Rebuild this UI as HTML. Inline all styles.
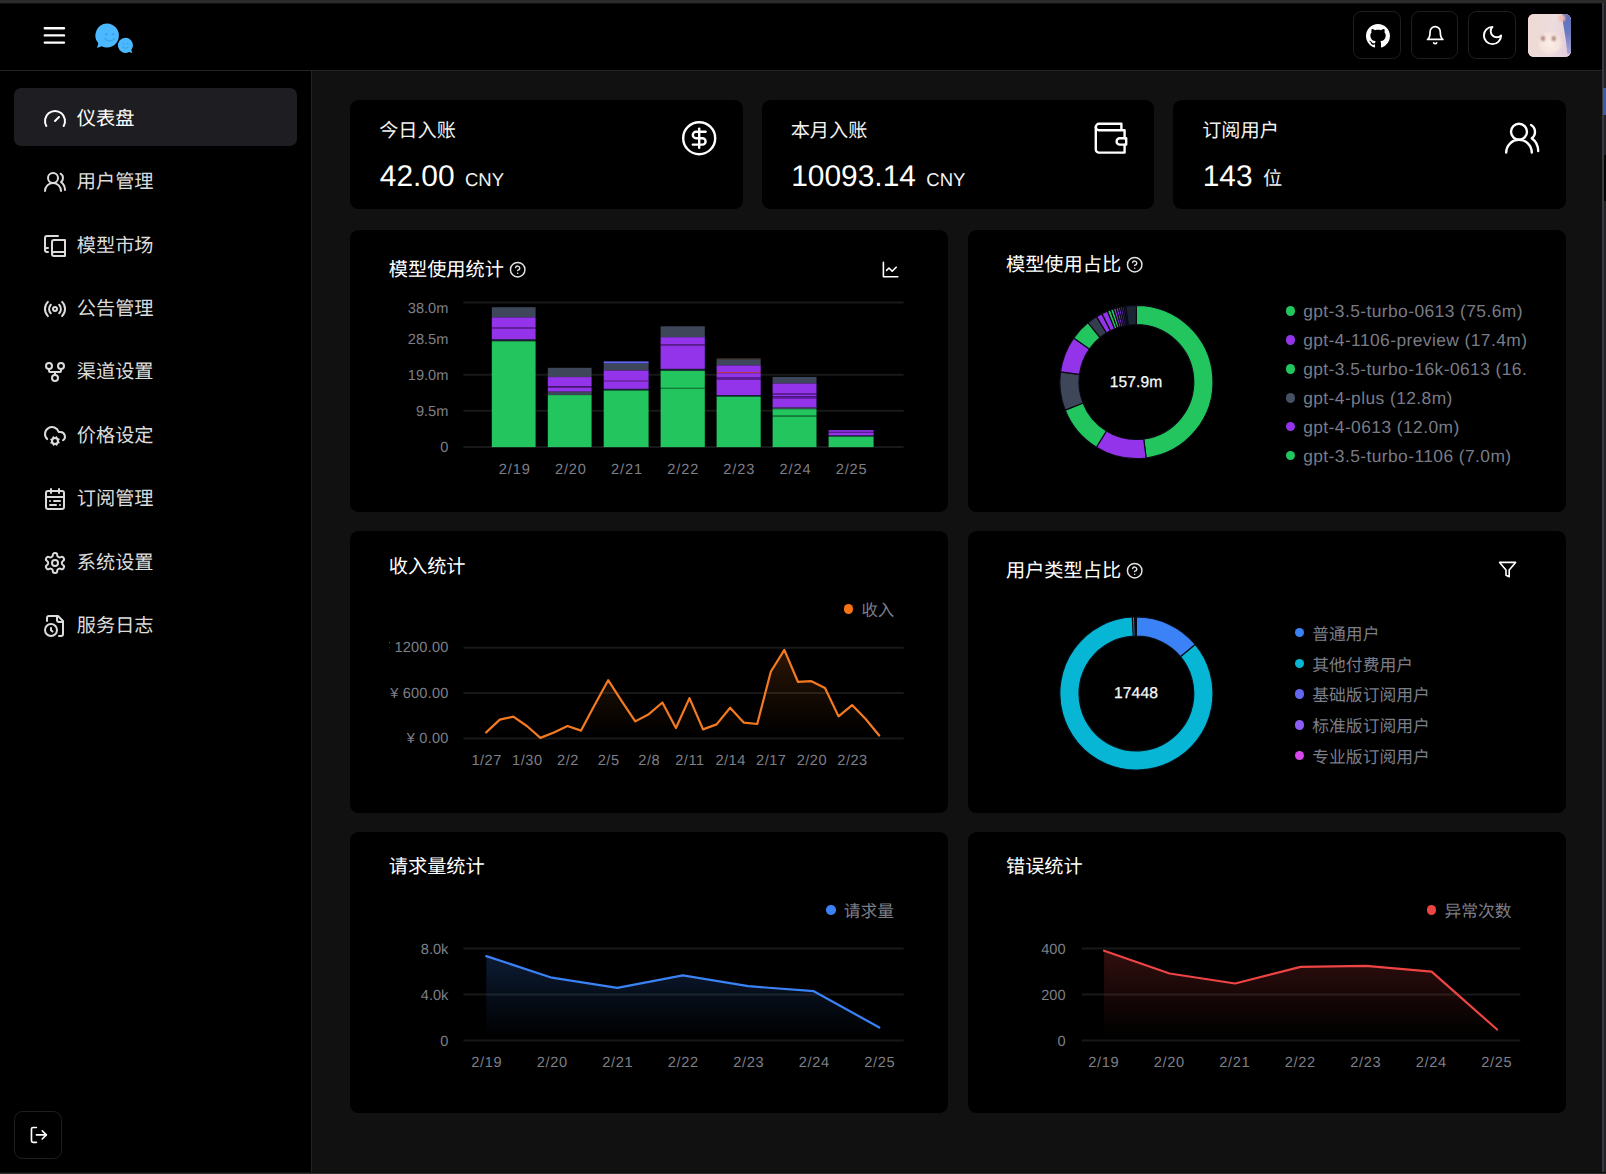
<!DOCTYPE html>
<html lang="zh-CN">
<head>
<meta charset="utf-8">
<title>仪表盘</title>
<style>
*{box-sizing:border-box;margin:0;padding:0}
html,body{width:1606px;height:1174px;overflow:hidden;background:#111}
body{font-family:"Liberation Sans",sans-serif;color:#fff;-webkit-font-smoothing:antialiased;text-rendering:geometricPrecision}
#app{position:relative;width:1606px;height:1174px;overflow:hidden;background:#111}
.t{position:absolute;white-space:nowrap;font-weight:400}
.t.m{-webkit-text-stroke:.25px #fafafa}
.ic{position:absolute;display:block;overflow:visible}
.cv{position:absolute;left:0;top:0;display:block}
.top{position:absolute;left:0;top:0;width:1606px;height:71px;background:#000;border-bottom:1px solid #232325}
.side{position:absolute;left:0;top:71px;width:312px;height:1103px;background:#000;border-right:1px solid #242425}
.navact{position:absolute;background:#1e1e22;border-radius:7.2px}
.ibtn{position:absolute;width:47.6px;height:47.6px;border:1px solid #1f1f21;border-radius:8.5px;background:#000}
.avatar{position:absolute;left:1528.1px;top:13.8px;width:43.1px;height:43.2px;border-radius:6px;overflow:hidden;background:#ead8d4}
.avatar i{position:absolute;display:block}
.card{position:absolute;background:#000;border-radius:8.6px;overflow:hidden}
.lg{position:absolute;list-style:none;overflow:hidden}
.lg li{display:block}
.dot{position:absolute;display:block;width:9.4px;height:9.4px;border-radius:50%;margin:.1px}
.clip{position:absolute;overflow:hidden}
.edge{position:absolute;background:#2d2d2f}

.avatar .a1{left:0;top:0;width:100%;height:100%;background:linear-gradient(100deg,#efd9d3 0%,#ecdcdc 55%,#e9d4dc 75%,#dcc8dc 100%)}
.avatar .a2{left:30px;top:0;width:14px;height:40px;background:linear-gradient(#5f70ba 0%,#6a79c0 45%,#a9a6d4 100%);clip-path:polygon(31% 0,100% 0,100% 100%,66% 100%,57% 70%,41% 35%,30% 12%);filter:blur(.7px)}
.avatar .a3{left:9px;top:17px;width:26px;height:24px;border-radius:50%;background:radial-gradient(closest-side,#fbeee6 0%,#f6e4dd 70%,rgba(246,228,221,0) 100%)}
.avatar .a4{left:12.6px;top:22.6px;width:4px;height:4.4px;border-radius:50%;background:#a98079;box-shadow:10.8px 0 0 #a98079;filter:blur(.8px)}
.avatar .a5{left:31px;top:1px;width:6px;height:6px;background:#f2b8a8;filter:blur(1.2px)}
</style>
</head>
<body>
<div id="app">
<header class="top">
<svg class="ic" style="left:39.8px;top:21.1px" width="28.8" height="28.8" viewBox="0 0 24 24" fill="none" stroke="#fff" stroke-width="2" stroke-linecap="round" stroke-linejoin="round"><path d="M4 12h16M4 6h16M4 18h16"/></svg>
<svg class="ic" style="left:90px;top:18px" width="50" height="40" viewBox="90 18 50 40"><path fill="#4cb8ff" d="M106.9 23.5a12 12 0 1 1-5.2 22.8l-4.6 1.6 1.2-4.6A12 12 0 0 1 106.9 23.5z"/><path fill="#4cb8ff" d="M125.5 37.7a7.6 7.6 0 1 0 3.4 14.4l3.3 1-.9-3.2a7.6 7.6 0 0 0-5.8-12.2z"/><g fill="#3aa4f0"><circle cx="106.4" cy="34.3" r="1.3"/><circle cx="113.2" cy="34.3" r="1.3"/></g><path d="M105 38.8q4.8 4.2 9.6 0" fill="none" stroke="#3aa4f0" stroke-width="1.5" stroke-linecap="round"/><g fill="#3aa4f0"><circle cx="123.3" cy="43.6" r=".9"/><circle cx="127.7" cy="43.6" r=".9"/></g><path d="M122.6 47q2.9 2.6 5.8 0" fill="none" stroke="#3aa4f0" stroke-width="1.1" stroke-linecap="round"/></svg>
<div class="ibtn" style="left:1353.2px;top:11.2px"></div>
<div class="ibtn" style="left:1410.8px;top:11.2px"></div>
<div class="ibtn" style="left:1468.4px;top:11.2px"></div>
<svg class="ic" style="left:1365.7px;top:23.6px" width="24" height="24" viewBox="0 0 16 16"><path fill="#fff" fill-rule="evenodd" d="M8 0C3.58 0 0 3.58 0 8c0 3.54 2.29 6.53 5.47 7.59.4.07.55-.17.55-.38 0-.19-.01-.82-.01-1.49-2.01.37-2.53-.49-2.69-.94-.09-.23-.48-.94-.82-1.13-.28-.15-.68-.52-.01-.53.63-.01 1.08.58 1.23.82.72 1.21 1.87.87 2.33.66.07-.52.28-.87.51-1.07-1.78-.2-3.64-.89-3.64-3.95 0-.87.31-1.59.82-2.15-.08-.2-.36-1.02.08-2.12 0 0 .67-.21 2.2.82.64-.18 1.32-.27 2-.27.68 0 1.36.09 2 .27 1.53-1.04 2.2-.82 2.2-.82.44 1.1.16 1.92.08 2.12.51.56.82 1.27.82 2.15 0 3.07-1.87 3.75-3.65 3.95.29.25.54.73.54 1.48 0 1.07-.01 1.93-.01 2.2 0 .21.15.46.55.38A8.013 8.013 0 0016 8c0-4.42-3.58-8-8-8z"/></svg>
<svg class="ic" style="left:1424.5px;top:25px" width="20.4" height="20.4" viewBox="0 0 24 24" fill="none" stroke="#fff" stroke-width="2" stroke-linecap="round" stroke-linejoin="round"><path d="M6 8a6 6 0 0 1 12 0c0 7 3 9 3 9H3s3-2 3-9"/><path d="M10.3 21a1.94 1.94 0 0 0 3.4 0"/></svg>
<svg class="ic" style="left:1481.2px;top:24px" width="23" height="23" viewBox="0 0 24 24" fill="none" stroke="#fff" stroke-width="2" stroke-linecap="round" stroke-linejoin="round"><path d="M12 3a6 6 0 0 0 9 9 9 9 0 1 1-9-9Z"/></svg>
<div class="avatar"><i class="a1"></i><i class="a2"></i><i class="a3"></i><i class="a4"></i><i class="a5"></i></div>
</header>
<aside class="side">
<nav>
<div class="navact" style="left:14.4px;top:17px;width:282.2px;height:57.6px"></div>
<svg class="ic" style="left:43px;top:35.8px" width="24" height="24" viewBox="0 0 24 24" fill="none" stroke="#fff" stroke-width="2" stroke-linecap="round" stroke-linejoin="round"><path d="m12 14 4-4"/><path d="M3.34 19a10 10 0 1 1 17.32 0"/></svg>
<div class="t" style="top:34.84px;font-size:19.2px;line-height:27px;color:#fff;left:76.8px;">仪表盘</div>
<svg class="ic" style="left:43px;top:99.2px" width="24" height="24" viewBox="0 0 24 24" fill="none" stroke="#dcdcdc" stroke-width="2" stroke-linecap="round" stroke-linejoin="round"><path d="M18 21a8 8 0 0 0-16 0"/><circle cx="10" cy="8" r="5"/><path d="M22 20c0-3.37-2-6.5-4-8a5 5 0 0 0-.45-8.3"/></svg>
<div class="t" style="top:98.24px;font-size:19.2px;line-height:27px;color:#dcdcdc;left:76.8px;">用户管理</div>
<svg class="ic" style="left:43px;top:162.6px" width="24" height="24" viewBox="0 0 24 24" fill="none" stroke="#dcdcdc" stroke-width="2" stroke-linecap="round" stroke-linejoin="round"><path d="M2 16V4a2 2 0 0 1 2-2h11"/><path d="M5 14H4a2 2 0 1 0 0 4h1"/><path d="M22 18H11a2 2 0 1 0 0 4h11V6H11a2 2 0 0 0-2 2v12"/></svg>
<div class="t" style="top:161.64px;font-size:19.2px;line-height:27px;color:#dcdcdc;left:76.8px;">模型市场</div>
<svg class="ic" style="left:43px;top:226px" width="24" height="24" viewBox="0 0 24 24" fill="none" stroke="#dcdcdc" stroke-width="2" stroke-linecap="round" stroke-linejoin="round"><path d="M4.9 19.1C1 15.2 1 8.8 4.9 4.9"/><path d="M7.8 16.2c-2.3-2.3-2.3-6.1 0-8.5"/><circle cx="12" cy="12" r="2"/><path d="M16.2 7.8c2.3 2.3 2.3 6.1 0 8.5"/><path d="M19.1 4.9C23 8.8 23 15.1 19.1 19"/></svg>
<div class="t" style="top:225.04px;font-size:19.2px;line-height:27px;color:#dcdcdc;left:76.8px;">公告管理</div>
<svg class="ic" style="left:43px;top:289.4px" width="24" height="24" viewBox="0 0 24 24" fill="none" stroke="#dcdcdc" stroke-width="2" stroke-linecap="round" stroke-linejoin="round"><circle cx="12" cy="18" r="3"/><circle cx="6" cy="6" r="3"/><circle cx="18" cy="6" r="3"/><path d="M18 9v2c0 .6-.4 1-1 1H7c-.6 0-1-.4-1-1V9"/><path d="M12 12v3"/></svg>
<div class="t" style="top:288.44px;font-size:19.2px;line-height:27px;color:#dcdcdc;left:76.8px;">渠道设置</div>
<svg class="ic" style="left:43px;top:352.8px" width="24" height="24" viewBox="0 0 24 24" fill="none" stroke="#dcdcdc" stroke-width="2" stroke-linecap="round" stroke-linejoin="round"><circle cx="12" cy="17" r="3"/><path d="M4.2 15.1A7 7 0 1 1 15.71 8h1.79a4.5 4.5 0 0 1 2.5 8.2"/><path d="m15.7 18.4-.9-.3"/><path d="m9.2 15.9-.9-.3"/><path d="m10.6 20.7.3-.9"/><path d="m13.1 14.2.3-.9"/><path d="m13.6 20.7-.4-1"/><path d="m10.8 14.3-.4-1"/><path d="m8.3 18.6 1-.4"/><path d="m14.7 15.8 1-.4"/></svg>
<div class="t" style="top:351.84px;font-size:19.2px;line-height:27px;color:#dcdcdc;left:76.8px;">价格设定</div>
<svg class="ic" style="left:43px;top:416.2px" width="24" height="24" viewBox="0 0 24 24" fill="none" stroke="#dcdcdc" stroke-width="2" stroke-linecap="round" stroke-linejoin="round"><rect width="18" height="18" x="3" y="4" rx="2"/><path d="M16 2v4"/><path d="M3 10h18"/><path d="M8 2v4"/><path d="M17 14h-6"/><path d="M13 18H7"/><path d="M7 14h.01"/><path d="M17 18h.01"/></svg>
<div class="t" style="top:415.24px;font-size:19.2px;line-height:27px;color:#dcdcdc;left:76.8px;">订阅管理</div>
<svg class="ic" style="left:43px;top:479.6px" width="24" height="24" viewBox="0 0 24 24" fill="none" stroke="#dcdcdc" stroke-width="2" stroke-linecap="round" stroke-linejoin="round"><path d="M12.22 2h-.44a2 2 0 0 0-2 2v.18a2 2 0 0 1-1 1.73l-.43.25a2 2 0 0 1-2 0l-.15-.08a2 2 0 0 0-2.73.73l-.22.38a2 2 0 0 0 .73 2.73l.15.1a2 2 0 0 1 1 1.72v.51a2 2 0 0 1-1 1.74l-.15.09a2 2 0 0 0-.73 2.73l.22.38a2 2 0 0 0 2.73.73l.15-.08a2 2 0 0 1 2 0l.43.25a2 2 0 0 1 1 1.73V20a2 2 0 0 0 2 2h.44a2 2 0 0 0 2-2v-.18a2 2 0 0 1 1-1.73l.43-.25a2 2 0 0 1 2 0l.15.08a2 2 0 0 0 2.73-.73l.22-.39a2 2 0 0 0-.73-2.73l-.15-.08a2 2 0 0 1-1-1.74v-.5a2 2 0 0 1 1-1.74l.15-.09a2 2 0 0 0 .73-2.73l-.22-.38a2 2 0 0 0-2.73-.73l-.15.08a2 2 0 0 1-2 0l-.43-.25a2 2 0 0 1-1-1.73V4a2 2 0 0 0-2-2z"/><circle cx="12" cy="12" r="3"/></svg>
<div class="t" style="top:478.64px;font-size:19.2px;line-height:27px;color:#dcdcdc;left:76.8px;">系统设置</div>
<svg class="ic" style="left:43px;top:543px" width="24" height="24" viewBox="0 0 24 24" fill="none" stroke="#dcdcdc" stroke-width="2" stroke-linecap="round" stroke-linejoin="round"><path d="M16 22h2a2 2 0 0 0 2-2V7l-5-5H6a2 2 0 0 0-2 2v3"/><path d="M14 2v4a2 2 0 0 0 2 2h4"/><circle cx="8" cy="16" r="6"/><path d="M9.5 17.5 8 16.25V14"/></svg>
<div class="t" style="top:542.04px;font-size:19.2px;line-height:27px;color:#dcdcdc;left:76.8px;">服务日志</div>
</nav>
<div class="ibtn" style="left:14.4px;top:1040.2px"></div>
<svg class="ic" style="left:28.9px;top:1053.6px" width="19.8" height="19.8" viewBox="0 0 24 24" fill="none" stroke="#fff" stroke-width="2" stroke-linecap="round" stroke-linejoin="round"><path d="M9 21H5a2 2 0 0 1-2-2V5a2 2 0 0 1 2-2h4"/><path d="m16 17 5-5-5-5"/><path d="M21 12H9"/></svg>
</aside>
<main>
<section class="card stat" style="left:350.4px;top:99.6px;width:392.27px;height:109.7px">
<div class="t" style="top:18.14px;font-size:19.2px;line-height:27px;color:#f2f2f2;left:28.8px;">今日入账</div>
<div class="t" style="top:56.34px;font-size:29.9px;line-height:42px;color:#fff;left:29.4px;">42.00</div>
<div class="t" style="top:67.39px;font-size:18.5px;line-height:26px;color:#f2f2f2;left:114.61px;">CNY</div>
<svg class="ic" style="left:329.27px;top:19.15px" width="38.4" height="38.4" viewBox="0 0 24 24" fill="none" stroke="#fff" stroke-width="1.5" stroke-linecap="round" stroke-linejoin="round"><circle cx="12" cy="12" r="10"/><path d="M16 8h-6a2 2 0 1 0 0 4h4a2 2 0 1 1 0 4H8"/><path d="M12 18V6"/></svg>
</section>
<section class="card stat" style="left:761.87px;top:99.6px;width:392.27px;height:109.7px">
<div class="t" style="top:18.14px;font-size:19.2px;line-height:27px;color:#f2f2f2;left:28.8px;">本月入账</div>
<div class="t" style="top:56.34px;font-size:29.9px;line-height:42px;color:#fff;left:29.4px;">10093.14</div>
<div class="t" style="top:67.39px;font-size:18.5px;line-height:26px;color:#f2f2f2;left:164.48px;">CNY</div>
<svg class="ic" style="left:329.27px;top:19.15px" width="38.4" height="38.4" viewBox="0 0 24 24" fill="none" stroke="#fff" stroke-width="1.5" stroke-linecap="round" stroke-linejoin="round"><path d="M21 12V7H5a2 2 0 0 1 0-4h14v4"/><path d="M3 5v14a2 2 0 0 0 2 2h16v-5"/><path d="M18 12a2 2 0 0 0 0 4h4v-4Z"/></svg>
</section>
<section class="card stat" style="left:1173.33px;top:99.6px;width:392.27px;height:109.7px">
<div class="t" style="top:18.14px;font-size:19.2px;line-height:27px;color:#f2f2f2;left:28.8px;">订阅用户</div>
<div class="t" style="top:56.34px;font-size:29.9px;line-height:42px;color:#fff;left:29.4px;">143</div>
<div class="t" style="top:66.64px;font-size:19.2px;line-height:27px;color:#f2f2f2;left:89.77px;">位</div>
<svg class="ic" style="left:329.27px;top:19.15px" width="38.4" height="38.4" viewBox="0 0 24 24" fill="none" stroke="#fff" stroke-width="1.5" stroke-linecap="round" stroke-linejoin="round"><path d="M18 21a8 8 0 0 0-16 0"/><circle cx="10" cy="8" r="5"/><path d="M22 20c0-3.37-2-6.5-4-8a5 5 0 0 0-.45-8.3"/></svg>
</section>
<section class="card" style="left:350.4px;top:230.4px;width:598px;height:281.5px">
<div class="t h" style="top:26.34px;font-size:19.2px;line-height:27px;color:#fff;left:38.4px;">模型使用统计</div>
<svg class="ic" style="left:158.5px;top:30.8px" width="17.4" height="17.4" viewBox="0 0 24 24" fill="none" stroke="#e4e4e7" stroke-width="2" stroke-linecap="round" stroke-linejoin="round"><circle cx="12" cy="12" r="10"/><path d="M9.09 9a3 3 0 0 1 5.83 1c0 2-3 3-3 3"/><path d="M12 17h.01"/></svg>
<svg class="ic" style="left:530.8px;top:29.6px" width="19.2" height="19.2" viewBox="0 0 24 24" fill="none" stroke="#fff" stroke-width="2" stroke-linecap="round" stroke-linejoin="round"><path d="M3 3v18h18"/><path d="m19 9-5 5-4-4-3 3"/></svg>
<svg class="cv" width="598" height="281.5" viewBox="350.4 230.4 598 281.5">
<path d="M463.8 302.9H904" stroke="#181819" stroke-width="2"/><path d="M463.8 375.2H904" stroke="#181819" stroke-width="2"/><path d="M463.8 411.2H904" stroke="#181819" stroke-width="2"/><path d="M463.8 447.4H904" stroke="#181819" stroke-width="2"/>
<rect x="492.2" y="307.6" width="43.8" height="10.2" fill="#3e4759"/>
<rect x="492.2" y="317.8" width="43.8" height="10.2" fill="#9333ea"/>
<rect x="492.2" y="328" width="43.8" height="1" fill="#6b21a8"/>
<rect x="492.2" y="329" width="43.8" height="10.9" fill="#9333ea"/>
<rect x="492.2" y="339.9" width="43.8" height="1.8" fill="#1b2238"/>
<rect x="492.2" y="341.7" width="43.8" height="105.8" fill="#22c55e"/>
<rect x="548.2" y="368.2" width="43.8" height="9.3" fill="#3e4759"/>
<rect x="548.2" y="377.5" width="43.8" height="9.3" fill="#9333ea"/>
<rect x="548.2" y="386.8" width="43.8" height="1.2" fill="#4a1d7a"/>
<rect x="548.2" y="388" width="43.8" height="4.1" fill="#9333ea"/>
<rect x="548.2" y="392.1" width="43.8" height="3.4" fill="#3e4759"/>
<rect x="548.2" y="395.5" width="43.8" height="52" fill="#22c55e"/>
<rect x="604.1" y="361.8" width="44.9" height="2.2" fill="#6366f1"/>
<rect x="604.1" y="364" width="44.9" height="6.9" fill="#3e4759"/>
<rect x="604.1" y="370.9" width="44.9" height="9.9" fill="#9333ea"/>
<rect x="604.1" y="380.8" width="44.9" height="1" fill="#a23be0"/>
<rect x="604.1" y="381.8" width="44.9" height="7.5" fill="#9333ea"/>
<rect x="604.1" y="389.3" width="44.9" height="1.6" fill="#1b2238"/>
<rect x="604.1" y="390.9" width="44.9" height="56.6" fill="#22c55e"/>
<rect x="661" y="326.7" width="44.2" height="10.9" fill="#3e4759"/>
<rect x="661" y="337.6" width="44.2" height="7.3" fill="#9333ea"/>
<rect x="661" y="344.9" width="44.2" height="1.1" fill="#6b21a8"/>
<rect x="661" y="346" width="44.2" height="23.3" fill="#9333ea"/>
<rect x="661" y="369.3" width="44.2" height="1.9" fill="#1b2238"/>
<rect x="661" y="371.2" width="44.2" height="17.1" fill="#22c55e"/>
<rect x="661" y="388.3" width="44.2" height="1" fill="#15803d"/>
<rect x="661" y="389.3" width="44.2" height="58.2" fill="#22c55e"/>
<rect x="717" y="359" width="44.1" height="0.8" fill="#7c5a3a"/>
<rect x="717" y="359.8" width="44.1" height="6" fill="#3e4759"/>
<rect x="717" y="365.8" width="44.1" height="6.7" fill="#9333ea"/>
<rect x="717" y="372.5" width="44.1" height="1.1" fill="#c2414b"/>
<rect x="717" y="373.6" width="44.1" height="4.4" fill="#9333ea"/>
<rect x="717" y="378" width="44.1" height="2" fill="#5b1a99"/>
<rect x="717" y="380" width="44.1" height="15.5" fill="#9333ea"/>
<rect x="717" y="395.5" width="44.1" height="1.5" fill="#1b2238"/>
<rect x="717" y="397" width="44.1" height="50.5" fill="#22c55e"/>
<rect x="773" y="377.3" width="43.9" height="6.6" fill="#3e4759"/>
<rect x="773" y="383.9" width="43.9" height="10.1" fill="#9333ea"/>
<rect x="773" y="394" width="43.9" height="1" fill="#6b21a8"/>
<rect x="773" y="395" width="43.9" height="1.6" fill="#9333ea"/>
<rect x="773" y="396.6" width="43.9" height="2.2" fill="#5b1a99"/>
<rect x="773" y="398.8" width="43.9" height="9.2" fill="#9333ea"/>
<rect x="773" y="408" width="43.9" height="1.6" fill="#3e4759"/>
<rect x="773" y="409.6" width="43.9" height="6.5" fill="#22c55e"/>
<rect x="773" y="416.1" width="43.9" height="1" fill="#15803d"/>
<rect x="773" y="417.1" width="43.9" height="30.4" fill="#22c55e"/>
<rect x="829" y="430.5" width="45" height="1.8" fill="#9333ea"/>
<rect x="829" y="432.3" width="45" height="1" fill="#5b1a99"/>
<rect x="829" y="433.3" width="45" height="2.7" fill="#9333ea"/>
<rect x="829" y="436" width="45" height="1" fill="#1b2238"/>
<rect x="829" y="437" width="45" height="10.5" fill="#22c55e"/>
</svg>
<div class="t" style="top:68.94px;font-size:14.6px;line-height:20px;color:#7e7f87;left:98px;transform:translateX(-100%);">38.0m</div>
<div class="t" style="top:99.84px;font-size:14.6px;line-height:20px;color:#7e7f87;left:98px;transform:translateX(-100%);">28.5m</div>
<div class="t" style="top:135.94px;font-size:14.6px;line-height:20px;color:#7e7f87;left:98px;transform:translateX(-100%);">19.0m</div>
<div class="t" style="top:171.24px;font-size:14.6px;line-height:20px;color:#7e7f87;left:98px;transform:translateX(-100%);">9.5m</div>
<div class="t" style="top:207.84px;font-size:14.6px;line-height:20px;color:#7e7f87;left:98px;transform:translateX(-100%);">0</div>
<div class="t" style="top:229.64px;font-size:14.6px;line-height:20px;color:#7e7f87;letter-spacing:0.9px;left:164.35px;transform:translateX(-50%);">2/19</div>
<div class="t" style="top:229.64px;font-size:14.6px;line-height:20px;color:#7e7f87;letter-spacing:0.9px;left:220.5px;transform:translateX(-50%);">2/20</div>
<div class="t" style="top:229.64px;font-size:14.6px;line-height:20px;color:#7e7f87;letter-spacing:0.9px;left:276.65px;transform:translateX(-50%);">2/21</div>
<div class="t" style="top:229.64px;font-size:14.6px;line-height:20px;color:#7e7f87;letter-spacing:0.9px;left:332.8px;transform:translateX(-50%);">2/22</div>
<div class="t" style="top:229.64px;font-size:14.6px;line-height:20px;color:#7e7f87;letter-spacing:0.9px;left:388.95px;transform:translateX(-50%);">2/23</div>
<div class="t" style="top:229.64px;font-size:14.6px;line-height:20px;color:#7e7f87;letter-spacing:0.9px;left:445.1px;transform:translateX(-50%);">2/24</div>
<div class="t" style="top:229.64px;font-size:14.6px;line-height:20px;color:#7e7f87;letter-spacing:0.9px;left:501.25px;transform:translateX(-50%);">2/25</div>
</section>
<section class="card" style="left:967.6px;top:230.4px;width:598px;height:281.5px">
<div class="t h" style="top:22.04px;font-size:19.2px;line-height:27px;color:#fff;left:38.4px;">模型使用占比</div>
<svg class="ic" style="left:158.3px;top:26.1px" width="17.4" height="17.4" viewBox="0 0 24 24" fill="none" stroke="#e4e4e7" stroke-width="2" stroke-linecap="round" stroke-linejoin="round"><circle cx="12" cy="12" r="10"/><path d="M9.09 9a3 3 0 0 1 5.83 1c0 2-3 3-3 3"/><path d="M12 17h.01"/></svg>
<svg class="cv" width="598" height="281.5" viewBox="967.6 230.4 598 281.5">
<path d="M1136 305.8A76.6 76.6 0 0 1 1145.73 458.38L1143.29 439.33A57.4 57.4 0 0 0 1136 325Z" fill="#22c55e" stroke="#0a0a14" stroke-width="1.2" stroke-linejoin="round"/><path d="M1145.73 458.38A76.6 76.6 0 0 1 1095.98 447.71L1106.01 431.34A57.4 57.4 0 0 0 1143.29 439.33Z" fill="#9333ea" stroke="#0a0a14" stroke-width="1.2" stroke-linejoin="round"/><path d="M1095.98 447.71A76.6 76.6 0 0 1 1064.73 410.47L1082.59 403.44A57.4 57.4 0 0 0 1106.01 431.34Z" fill="#22c55e" stroke="#0a0a14" stroke-width="1.2" stroke-linejoin="round"/><path d="M1064.73 410.47A76.6 76.6 0 0 1 1060.07 372.27L1079.1 374.81A57.4 57.4 0 0 0 1082.59 403.44Z" fill="#3e4759" stroke="#0a0a14" stroke-width="1.2" stroke-linejoin="round"/><path d="M1060.07 372.27A76.6 76.6 0 0 1 1073.25 338.46L1088.98 349.48A57.4 57.4 0 0 0 1079.1 374.81Z" fill="#9333ea" stroke="#0a0a14" stroke-width="1.2" stroke-linejoin="round"/><path d="M1073.25 338.46A76.6 76.6 0 0 1 1087.59 323.04L1099.72 337.92A57.4 57.4 0 0 0 1088.98 349.48Z" fill="#22c55e" stroke="#0a0a14" stroke-width="1.2" stroke-linejoin="round"/><path d="M1087.59 323.04A76.6 76.6 0 0 1 1096.09 317.02L1106.09 333.41A57.4 57.4 0 0 0 1099.72 337.92Z" fill="#343c4e" stroke="#0a0a14" stroke-width="1.2" stroke-linejoin="round"/><path d="M1096.09 317.02A76.6 76.6 0 0 1 1101.46 314.03L1110.12 331.17A57.4 57.4 0 0 0 1106.09 333.41Z" fill="#9333ea" stroke="#0a0a14" stroke-width="1.2" stroke-linejoin="round"/><path d="M1101.46 314.03A76.6 76.6 0 0 1 1107.06 311.48L1114.31 329.26A57.4 57.4 0 0 0 1110.12 331.17Z" fill="#9333ea" stroke="#0a0a14" stroke-width="1.2" stroke-linejoin="round"/><path d="M1107.06 311.48A76.6 76.6 0 0 1 1110.18 310.28L1116.65 328.36A57.4 57.4 0 0 0 1114.31 329.26Z" fill="#22c55e" stroke="#0a0a14" stroke-width="1.2" stroke-linejoin="round"/><path d="M1110.18 310.28A76.6 76.6 0 0 1 1113.09 309.31L1118.84 327.63A57.4 57.4 0 0 0 1116.65 328.36Z" fill="#22c55e" stroke="#0a0a14" stroke-width="1.2" stroke-linejoin="round"/><path d="M1113.09 309.31A76.6 76.6 0 0 1 1115.66 308.55L1120.76 327.06A57.4 57.4 0 0 0 1118.84 327.63Z" fill="#9333ea" stroke="#0a0a14" stroke-width="1.2" stroke-linejoin="round"/><path d="M1115.66 308.55A76.6 76.6 0 0 1 1117.99 307.95L1122.5 326.61A57.4 57.4 0 0 0 1120.76 327.06Z" fill="#8b3fe0" stroke="#0a0a14" stroke-width="1.2" stroke-linejoin="round"/><path d="M1117.99 307.95A76.6 76.6 0 0 1 1120.07 307.47L1124.07 326.25A57.4 57.4 0 0 0 1122.5 326.61Z" fill="#7c3aed" stroke="#0a0a14" stroke-width="1.2" stroke-linejoin="round"/><path d="M1120.07 307.47A76.6 76.6 0 0 1 1122.04 307.08L1125.54 325.96A57.4 57.4 0 0 0 1124.07 326.25Z" fill="#6d38d0" stroke="#0a0a14" stroke-width="1.2" stroke-linejoin="round"/><path d="M1122.04 307.08A76.6 76.6 0 0 1 1123.75 306.79L1126.82 325.74A57.4 57.4 0 0 0 1125.54 325.96Z" fill="#5b34b0" stroke="#0a0a14" stroke-width="1.2" stroke-linejoin="round"/><path d="M1123.75 306.79A76.6 76.6 0 0 1 1125.34 306.55L1128.01 325.56A57.4 57.4 0 0 0 1126.82 325.74Z" fill="#473088" stroke="#0a0a14" stroke-width="1.2" stroke-linejoin="round"/><path d="M1125.34 306.55A76.6 76.6 0 0 1 1136 305.8L1136 325A57.4 57.4 0 0 0 1128.01 325.56Z" fill="#1b2433" stroke="#0a0a14" stroke-width="1.2" stroke-linejoin="round"/>
</svg>
<div class="t m" style="top:141.49px;font-size:15.6px;line-height:22px;color:#fafafa;letter-spacing:0.1px;left:168.45px;transform:translateX(-50%);">157.9m</div>
<ul class="lg" style="left:316.4px;top:65.6px;width:243.5px;height:176px">
<li><i class="dot" style="left:1.8px;top:10.4px;background:#22c55e"></i><div class="t" style="top:3.37px;font-size:17.4px;line-height:24px;color:#797c87;letter-spacing:0.42px;left:19.2px;">gpt-3.5-turbo-0613 (75.6m)</div></li>
<li><i class="dot" style="left:1.8px;top:39.3px;background:#9333ea"></i><div class="t" style="top:32.27px;font-size:17.4px;line-height:24px;color:#797c87;letter-spacing:0.42px;left:19.2px;">gpt-4-1106-preview (17.4m)</div></li>
<li><i class="dot" style="left:1.8px;top:68.2px;background:#22c55e"></i><div class="t" style="top:61.17px;font-size:17.4px;line-height:24px;color:#797c87;letter-spacing:0.42px;left:19.2px;">gpt-3.5-turbo-16k-0613 (16.</div></li>
<li><i class="dot" style="left:1.8px;top:97.1px;background:#475063"></i><div class="t" style="top:90.07px;font-size:17.4px;line-height:24px;color:#797c87;letter-spacing:0.42px;left:19.2px;">gpt-4-plus (12.8m)</div></li>
<li><i class="dot" style="left:1.8px;top:126px;background:#9333ea"></i><div class="t" style="top:118.97px;font-size:17.4px;line-height:24px;color:#797c87;letter-spacing:0.42px;left:19.2px;">gpt-4-0613 (12.0m)</div></li>
<li><i class="dot" style="left:1.8px;top:154.9px;background:#22c55e"></i><div class="t" style="top:147.87px;font-size:17.4px;line-height:24px;color:#797c87;letter-spacing:0.42px;left:19.2px;">gpt-3.5-turbo-1106 (7.0m)</div></li>
</ul>
</section>
<section class="card" style="left:350.4px;top:530.5px;width:598px;height:282.4px">
<div class="t h" style="top:23.14px;font-size:19.2px;line-height:27px;color:#fff;left:38.4px;">收入统计</div>
<svg class="cv" width="598" height="282.4" viewBox="350.4 530.5 598 282.4">
<path d="M463.8 647.2H904" stroke="#181819" stroke-width="2"/><path d="M463.8 692.5H904" stroke="#181819" stroke-width="2"/><path d="M463.8 737.9H904" stroke="#181819" stroke-width="2"/>
<defs><linearGradient id="gInc" x1="0" y1="649.4" x2="0" y2="737.9" gradientUnits="userSpaceOnUse"><stop offset="0.05" stop-color="#f47a22" stop-opacity="0.17"/><stop offset="0.95" stop-color="#f47a22" stop-opacity="0"/></linearGradient></defs><path d="M486.6 731.9L500.15 719.1L513.7 716.1L527.26 725.5L540.81 737.4L554.36 732.1L567.91 725.5L581.46 730.1L595.02 704.6L608.57 679.7L622.12 700.6L635.67 720.9L649.22 713.7L662.78 702L676.33 727.5L689.88 697.6L703.43 728.9L716.98 723.9L730.54 707.2L744.09 722.1L757.64 723.5L771.19 671.3L784.74 649.4L798.3 681.3L811.85 680.7L825.4 687.6L838.95 715.9L852.5 704.6L866.06 718.5L879.61 735V737.9H486.6Z" fill="url(#gInc)"/><path d="M486.6 731.9L500.15 719.1L513.7 716.1L527.26 725.5L540.81 737.4L554.36 732.1L567.91 725.5L581.46 730.1L595.02 704.6L608.57 679.7L622.12 700.6L635.67 720.9L649.22 713.7L662.78 702L676.33 727.5L689.88 697.6L703.43 728.9L716.98 723.9L730.54 707.2L744.09 722.1L757.64 723.5L771.19 671.3L784.74 649.4L798.3 681.3L811.85 680.7L825.4 687.6L838.95 715.9L852.5 704.6L866.06 718.5L879.61 735" fill="none" stroke="#f47a22" stroke-width="2.2" stroke-linejoin="round" stroke-linecap="round"/>
</svg>
<i class="dot" style="left:493.4px;top:73.7px;background:#f97316"></i>
<div class="t" style="top:69.05px;font-size:16.4px;line-height:23px;color:#7b7e88;left:511px;">收入</div>
<div class="clip" style="left:38.6px;top:105.5px;width:62px;height:24px">
<div class="t" style="top:2.44px;font-size:14.6px;line-height:20px;color:#7e7f87;letter-spacing:0.2px;left:59.6px;transform:translateX(-100%);">¥ 1200.00</div>
</div>
<div class="t" style="top:153.44px;font-size:14.6px;line-height:20px;color:#7e7f87;letter-spacing:0.2px;left:98.2px;transform:translateX(-100%);">¥ 600.00</div>
<div class="t" style="top:198.24px;font-size:14.6px;line-height:20px;color:#7e7f87;letter-spacing:0.2px;left:98.2px;transform:translateX(-100%);">¥ 0.00</div>
<div class="t" style="top:220.14px;font-size:14.6px;line-height:20px;color:#7e7f87;letter-spacing:0.5px;left:136.25px;transform:translateX(-50%);">1/27</div>
<div class="t" style="top:220.14px;font-size:14.6px;line-height:20px;color:#7e7f87;letter-spacing:0.5px;left:176.91px;transform:translateX(-50%);">1/30</div>
<div class="t" style="top:220.14px;font-size:14.6px;line-height:20px;color:#7e7f87;letter-spacing:0.5px;left:217.56px;transform:translateX(-50%);">2/2</div>
<div class="t" style="top:220.14px;font-size:14.6px;line-height:20px;color:#7e7f87;letter-spacing:0.5px;left:258.22px;transform:translateX(-50%);">2/5</div>
<div class="t" style="top:220.14px;font-size:14.6px;line-height:20px;color:#7e7f87;letter-spacing:0.5px;left:298.87px;transform:translateX(-50%);">2/8</div>
<div class="t" style="top:220.14px;font-size:14.6px;line-height:20px;color:#7e7f87;letter-spacing:0.5px;left:339.53px;transform:translateX(-50%);">2/11</div>
<div class="t" style="top:220.14px;font-size:14.6px;line-height:20px;color:#7e7f87;letter-spacing:0.5px;left:380.19px;transform:translateX(-50%);">2/14</div>
<div class="t" style="top:220.14px;font-size:14.6px;line-height:20px;color:#7e7f87;letter-spacing:0.5px;left:420.84px;transform:translateX(-50%);">2/17</div>
<div class="t" style="top:220.14px;font-size:14.6px;line-height:20px;color:#7e7f87;letter-spacing:0.5px;left:461.5px;transform:translateX(-50%);">2/20</div>
<div class="t" style="top:220.14px;font-size:14.6px;line-height:20px;color:#7e7f87;letter-spacing:0.5px;left:502.15px;transform:translateX(-50%);">2/23</div>
</section>
<section class="card" style="left:967.6px;top:530.5px;width:598px;height:282.4px">
<div class="t h" style="top:27.74px;font-size:19.2px;line-height:27px;color:#fff;left:38.4px;">用户类型占比</div>
<svg class="ic" style="left:158.3px;top:31.8px" width="17.4" height="17.4" viewBox="0 0 24 24" fill="none" stroke="#e4e4e7" stroke-width="2" stroke-linecap="round" stroke-linejoin="round"><circle cx="12" cy="12" r="10"/><path d="M9.09 9a3 3 0 0 1 5.83 1c0 2-3 3-3 3"/><path d="M12 17h.01"/></svg>
<svg class="ic" style="left:530.3px;top:29.7px" width="19.2" height="19.2" viewBox="0 0 24 24" fill="none" stroke="#fff" stroke-width="2" stroke-linecap="round" stroke-linejoin="round"><path d="M22 3H2l8 9.46V19l4 2v-8.54L22 3z"/></svg>
<svg class="cv" width="598" height="282.4" viewBox="967.6 530.5 598 282.4">
<path d="M1136 616.4A76.6 76.6 0 0 1 1194.85 643.97L1180.1 656.26A57.4 57.4 0 0 0 1136 635.6Z" fill="#3b82f6" stroke="#071018" stroke-width="1.2" stroke-linejoin="round"/><path d="M1194.85 643.97A76.6 76.6 0 1 1 1131.86 616.51L1132.9 635.68A57.4 57.4 0 1 0 1180.1 656.26Z" fill="#06b6d4" stroke="#071018" stroke-width="1.2" stroke-linejoin="round"/>
<path d="M1131.59 616.53A76.6 76.6 0 0 1 1136.27 616.4L1136.2 635.6A57.4 57.4 0 0 0 1132.7 635.7Z" fill="#05080e"/>
<path d="M1132.61 616.88A76.2 76.2 0 0 1 1133.61 616.84L1134.18 635.23A57.8 57.8 0 0 0 1133.43 635.26Z" fill="#5d70b4"/>
</svg>
<div class="t m" style="top:152.06px;font-size:15.7px;line-height:22px;color:#fafafa;letter-spacing:0.1px;left:168.45px;transform:translateX(-50%);">17448</div>
<ul class="lg" style="left:324.4px;top:85.5px;width:240px;height:156px">
<li><i class="dot" style="left:3px;top:12px;background:#3b82f6"></i><div class="t" style="top:6.86px;font-size:16.8px;line-height:24px;color:#7b7e88;left:20.3px;">普通用户</div></li>
<li><i class="dot" style="left:3px;top:42.7px;background:#06b6d4"></i><div class="t" style="top:37.56px;font-size:16.8px;line-height:24px;color:#7b7e88;left:20.3px;">其他付费用户</div></li>
<li><i class="dot" style="left:3px;top:73.4px;background:#6366f1"></i><div class="t" style="top:68.26px;font-size:16.8px;line-height:24px;color:#7b7e88;left:20.3px;">基础版订阅用户</div></li>
<li><i class="dot" style="left:3px;top:104.1px;background:#8b5cf6"></i><div class="t" style="top:98.96px;font-size:16.8px;line-height:24px;color:#7b7e88;left:20.3px;">标准版订阅用户</div></li>
<li><i class="dot" style="left:3px;top:134.8px;background:#d946ef"></i><div class="t" style="top:129.66px;font-size:16.8px;line-height:24px;color:#7b7e88;left:20.3px;">专业版订阅用户</div></li>
</ul>
</section>
<section class="card" style="left:350.4px;top:831.8px;width:598px;height:281px">
<div class="t h" style="top:22.54px;font-size:19.2px;line-height:27px;color:#fff;left:38.4px;">请求量统计</div>
<svg class="cv" width="598" height="281" viewBox="350.4 831.8 598 281">
<path d="M463.8 948.3H904" stroke="#181819" stroke-width="2"/><path d="M463.8 994.4H904" stroke="#181819" stroke-width="2"/><path d="M463.8 1040.3H904" stroke="#181819" stroke-width="2"/>
<defs><linearGradient id="gReq" x1="0" y1="955.9" x2="0" y2="1040.3" gradientUnits="userSpaceOnUse"><stop offset="0.05" stop-color="#3b82f6" stop-opacity="0.2"/><stop offset="0.95" stop-color="#3b82f6" stop-opacity="0"/></linearGradient></defs><path d="M486.7 955.9L552.2 977.5L617.7 987.6L683.2 975.2L748.7 986L814.2 991L879.7 1027.3V1040.3H486.7Z" fill="url(#gReq)"/><path d="M486.7 955.9L552.2 977.5L617.7 987.6L683.2 975.2L748.7 986L814.2 991L879.7 1027.3" fill="none" stroke="#3b82f6" stroke-width="2.2" stroke-linejoin="round" stroke-linecap="round"/>
</svg>
<i class="dot" style="left:475.9px;top:73.4px;background:#3b82f6"></i>
<div class="t" style="top:68.26px;font-size:16.8px;line-height:24px;color:#7b7e88;left:493.4px;">请求量</div>
<div class="t" style="top:107.94px;font-size:14.6px;line-height:20px;color:#7e7f87;left:98px;transform:translateX(-100%);">8.0k</div>
<div class="t" style="top:154.04px;font-size:14.6px;line-height:20px;color:#7e7f87;left:98px;transform:translateX(-100%);">4.0k</div>
<div class="t" style="top:199.94px;font-size:14.6px;line-height:20px;color:#7e7f87;left:98px;transform:translateX(-100%);">0</div>
<div class="t" style="top:221.34px;font-size:14.6px;line-height:20px;color:#7e7f87;letter-spacing:0.7px;left:136.35px;transform:translateX(-50%);">2/19</div>
<div class="t" style="top:221.34px;font-size:14.6px;line-height:20px;color:#7e7f87;letter-spacing:0.7px;left:201.85px;transform:translateX(-50%);">2/20</div>
<div class="t" style="top:221.34px;font-size:14.6px;line-height:20px;color:#7e7f87;letter-spacing:0.7px;left:267.35px;transform:translateX(-50%);">2/21</div>
<div class="t" style="top:221.34px;font-size:14.6px;line-height:20px;color:#7e7f87;letter-spacing:0.7px;left:332.85px;transform:translateX(-50%);">2/22</div>
<div class="t" style="top:221.34px;font-size:14.6px;line-height:20px;color:#7e7f87;letter-spacing:0.7px;left:398.35px;transform:translateX(-50%);">2/23</div>
<div class="t" style="top:221.34px;font-size:14.6px;line-height:20px;color:#7e7f87;letter-spacing:0.7px;left:463.85px;transform:translateX(-50%);">2/24</div>
<div class="t" style="top:221.34px;font-size:14.6px;line-height:20px;color:#7e7f87;letter-spacing:0.7px;left:529.35px;transform:translateX(-50%);">2/25</div>
</section>
<section class="card" style="left:967.6px;top:831.8px;width:598px;height:281px">
<div class="t h" style="top:22.54px;font-size:19.2px;line-height:27px;color:#fff;left:38.4px;">错误统计</div>
<svg class="cv" width="598" height="281" viewBox="967.6 831.8 598 281">
<path d="M1081.3 948.3H1520" stroke="#181819" stroke-width="2"/><path d="M1081.3 994.4H1520" stroke="#181819" stroke-width="2"/><path d="M1081.3 1040.3H1520" stroke="#181819" stroke-width="2"/>
<defs><linearGradient id="gErr" x1="0" y1="950.5" x2="0" y2="1040.3" gradientUnits="userSpaceOnUse"><stop offset="0.05" stop-color="#ef4444" stop-opacity="0.2"/><stop offset="0.95" stop-color="#ef4444" stop-opacity="0"/></linearGradient></defs><path d="M1103.7 950.5L1169.2 973.3L1234.7 983.3L1300.2 966.7L1365.7 965.6L1431.2 971.4L1496.7 1029.3V1040.3H1103.7Z" fill="url(#gErr)"/><path d="M1103.7 950.5L1169.2 973.3L1234.7 983.3L1300.2 966.7L1365.7 965.6L1431.2 971.4L1496.7 1029.3" fill="none" stroke="#ef4444" stroke-width="2.2" stroke-linejoin="round" stroke-linecap="round"/>
</svg>
<i class="dot" style="left:459.4px;top:73.4px;background:#ef4444"></i>
<div class="t" style="top:68.26px;font-size:16.8px;line-height:24px;color:#7b7e88;left:476.9px;">异常次数</div>
<div class="t" style="top:107.94px;font-size:14.6px;line-height:20px;color:#7e7f87;left:98px;transform:translateX(-100%);">400</div>
<div class="t" style="top:154.04px;font-size:14.6px;line-height:20px;color:#7e7f87;left:98px;transform:translateX(-100%);">200</div>
<div class="t" style="top:199.94px;font-size:14.6px;line-height:20px;color:#7e7f87;left:98px;transform:translateX(-100%);">0</div>
<div class="t" style="top:221.34px;font-size:14.6px;line-height:20px;color:#7e7f87;letter-spacing:0.7px;left:136.15px;transform:translateX(-50%);">2/19</div>
<div class="t" style="top:221.34px;font-size:14.6px;line-height:20px;color:#7e7f87;letter-spacing:0.7px;left:201.65px;transform:translateX(-50%);">2/20</div>
<div class="t" style="top:221.34px;font-size:14.6px;line-height:20px;color:#7e7f87;letter-spacing:0.7px;left:267.15px;transform:translateX(-50%);">2/21</div>
<div class="t" style="top:221.34px;font-size:14.6px;line-height:20px;color:#7e7f87;letter-spacing:0.7px;left:332.65px;transform:translateX(-50%);">2/22</div>
<div class="t" style="top:221.34px;font-size:14.6px;line-height:20px;color:#7e7f87;letter-spacing:0.7px;left:398.15px;transform:translateX(-50%);">2/23</div>
<div class="t" style="top:221.34px;font-size:14.6px;line-height:20px;color:#7e7f87;letter-spacing:0.7px;left:463.65px;transform:translateX(-50%);">2/24</div>
<div class="t" style="top:221.34px;font-size:14.6px;line-height:20px;color:#7e7f87;letter-spacing:0.7px;left:529.15px;transform:translateX(-50%);">2/25</div>
</section>
</main>
<div class="edge" style="left:0;top:0;width:1606px;height:4px;background:linear-gradient(#292929 0,#292929 25%,#2f2f2f 25%,#2f2f2f 50%,#282828 50%,#282828 75%,#121212 75%)"></div>
<div class="edge" style="left:1602px;top:3px;width:2px;height:1171px;background:#3a3a3c"></div>
<div class="edge" style="left:1604px;top:3px;width:2px;height:1171px;background:#222226"></div>
<div class="edge" style="left:1603px;top:88px;width:3px;height:27px;background:#3a5ea6"></div>
<div class="edge" style="left:1604px;top:155px;width:2px;height:46px;background:#050506"></div>
<div class="edge" style="left:0;top:1172px;width:1606px;height:2px;background:linear-gradient(#10110f 50%,#2e2f2d 50%)"></div>
</div>
</body>
</html>
